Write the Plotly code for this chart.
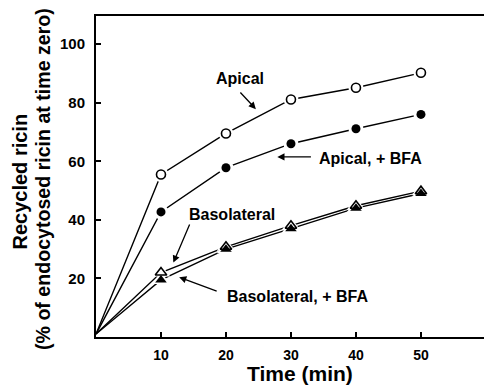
import plotly.graph_objects as go

time = [0, 10, 20, 30, 40, 50]
apical = [1, 55.5, 69.5, 81.1, 85.1, 90.2]
apical_bfa = [1, 42.7, 57.8, 66.0, 71.1, 76.0]
baso = [1, 22.0, 30.8, 38.0, 44.8, 49.8]
baso_bfa = [1, 19.5, 30.0, 37.0, 44.0, 49.0]

x_ticks = [10, 20, 30, 40, 50]
y_ticks = [20, 40, 60, 80, 100]

FONT = "Liberation Sans, Arial, Helvetica, sans-serif"

fig = go.Figure()

series = [
    (apical, "circle-open", 9, "Apical"),
    (apical_bfa, "circle", 9, "Apical, + BFA"),
    (baso, "triangle-up-open", 10, "Basolateral"),
    (baso_bfa, "triangle-up", 10, "Basolateral, + BFA"),
]

# lines
for ys, sym, sz, name in series:
    fig.add_trace(go.Scatter(x=time, y=ys, mode="lines",
                             line=dict(color="black", width=1.4),
                             showlegend=False, hoverinfo="skip"))
# white halos (gaps around markers)
for ys, sym, sz, name in series:
    fig.add_trace(go.Scatter(x=time[1:], y=ys[1:], mode="markers",
                             marker=dict(symbol=sym.replace("-open", ""), size=sz + 6,
                                         color="white", line=dict(width=0)),
                             showlegend=False, hoverinfo="skip"))
# markers
for ys, sym, sz, name in series:
    if "open" in sym:
        mk = dict(symbol=sym.replace("-open", ""), size=sz, color="white",
                  line=dict(color="black", width=1.6))
    else:
        mk = dict(symbol=sym, size=sz, color="black", line=dict(width=0))
    fig.add_trace(go.Scatter(x=time[1:], y=ys[1:], mode="markers", marker=mk,
                             name=name, showlegend=False))

ann = []
def label(text, x, y, size=16):
    ann.append(dict(text="<b>" + text + "</b>", x=x, y=y, xref="x", yref="y",
                    xanchor="center", yanchor="middle",
                    showarrow=False, font=dict(size=size, color="black", family=FONT)))

def arrow(hx, hy, tx, ty):
    ann.append(dict(text="", x=hx, y=hy, ax=tx, ay=ty, xref="x", yref="y",
                    axref="x", ayref="y", showarrow=True, arrowhead=2,
                    arrowsize=1.1, arrowwidth=1.3, arrowcolor="black"))

label("Apical", 22.1, 88.4)
arrow(24.6, 77.8, 22.0, 84.0)
label("Apical, + BFA", 42.2, 61.0)
arrow(27.9, 61.5, 33.3, 61.5)
label("Basolateral", 20.9, 41.9)
arrow(11.9, 25.4, 14.5, 38.9)
label("Basolateral, + BFA", 31.0, 14.0)
arrow(12.8, 20.4, 18.8, 15.5)

W, H = 484, 385
L, R, T, B = 96, 0, 16, 48
pw, ph = W - L - R, H - T - B

def px_ann(text, px, py, size, angle=0):
    ann.append(dict(text="<b>" + text + "</b>", x=(px - L) / pw, y=(H - B - py) / ph,
                    xref="paper", yref="paper", xanchor="center", yanchor="middle",
                    showarrow=False, textangle=angle,
                    font=dict(size=size, color="black", family=FONT)))

px_ann("Time (min)", 300, 373, 21)
px_ann("Recycled ricin", 19.5, 182, 20, -90)
px_ann("(% of endocytosed ricin at time zero)", 43, 179, 19.6, -90)

fig.update_layout(
    width=W, height=H,
    margin=dict(l=L, r=R, t=T, b=B),
    paper_bgcolor="white", plot_bgcolor="white",
    showlegend=False,
    font=dict(family=FONT, color="black"),
    annotations=ann,
)

fig.update_xaxes(range=[0, 59.7], tickvals=x_ticks, ticktext=["<b>%d</b>" % v for v in x_ticks],
                 ticks="inside", ticklen=5, tickwidth=1.5, tickcolor="black",
                 showline=True, linecolor="black", linewidth=2, mirror=True,
                 showgrid=False, zeroline=False,
                 tickfont=dict(size=14, color="black", family=FONT), ticklabelstandoff=4)
fig.update_yaxes(range=[0, 109.6], tickvals=y_ticks, ticktext=["<b>%d</b>" % v for v in y_ticks],
                 ticks="inside", ticklen=5, tickwidth=1.5, tickcolor="black",
                 showline=True, linecolor="black", linewidth=2, mirror=False,
                 showgrid=False, zeroline=False,
                 tickfont=dict(size=15, color="black", family=FONT), ticklabelstandoff=6)

fig.write_html("out.html")
